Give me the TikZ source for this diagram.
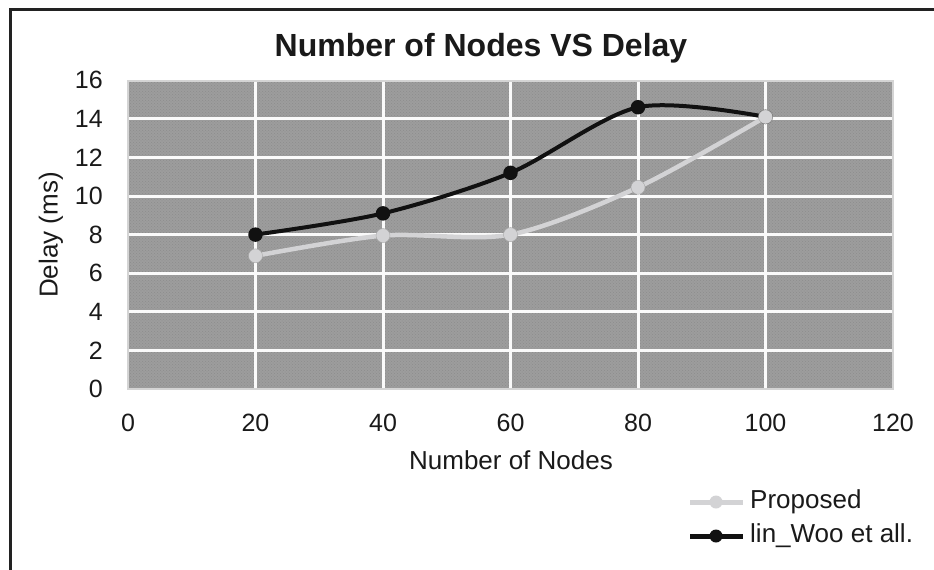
\documentclass[tikz,border=0pt]{standalone}
\usepackage{fontspec}
\setmainfont{Liberation Sans}
\usetikzlibrary{patterns}
\definecolor{framec}{HTML}{222222}
\definecolor{areac}{HTML}{9D9D9D}
\definecolor{gridc}{HTML}{FAFAFA}
\definecolor{edgec}{HTML}{D4D4D4}
\definecolor{propc}{HTML}{D3D3D5}
\definecolor{linc}{HTML}{111111}
\definecolor{textc}{HTML}{1A1A1A}

\begin{document}
\begin{tikzpicture}[x=1pt,y=-1pt,
  ticklab/.style={font=\fontsize{25}{25}\selectfont, text=textc, inner sep=0pt},
  axtitle/.style={font=\fontsize{26}{26}\selectfont, text=textc, inner sep=0pt},
  legtext/.style={font=\fontsize{26}{26}\selectfont, text=textc, inner sep=0pt, anchor=west},
  gridline/.style={draw=gridc, line width=3pt},
  propline/.style={draw=propc, line width=4.5pt, line join=round, line cap=round},
  linline/.style={draw=linc, line width=4pt, line join=round, line cap=round},
  propmark/.style={circle, fill=propc, draw=black!35, line width=0.4pt, minimum size=14pt, inner sep=0pt},
  linmark/.style={circle, fill=linc, minimum size=14.5pt, inner sep=0pt}]

\useasboundingbox (0,0) rectangle (934,570);
\fill[white] (0,0) rectangle (934,570);

% chart frame (runs off the right and bottom edges)
\draw[framec, line width=3pt] (10.5,580) |- (945,9.5);

% title
\node[font=\fontsize{32}{32}\selectfont\bfseries, text=textc, inner sep=0pt] (title) at (481,48) {Number of Nodes VS Delay};

% plot area with a fine dotted texture
\fill[areac] (128,81) rectangle (893,389);
\fill[pattern=crosshatch dots, pattern color=black!60, fill opacity=0.3] (128,81) rectangle (893,389);

% grid
\foreach \gx in {20,40,60,80,100}
  \draw[gridline] ({128+6.375*\gx},81) -- ({128+6.375*\gx},389);
\foreach \gy in {2,4,...,14}
  \draw[gridline] (128,{389-19.3*\gy}) -- (893,{389-19.3*\gy});
\draw[edgec, line width=1.5pt] (128,81) rectangle (893,389);

% axis tick labels
\foreach \v in {0,2,...,16}
  \node[ticklab, anchor=east] (yt\v) at (103,{389-19.3*\v}) {\v};
\foreach \v in {0,20,...,120}
  \node[ticklab] (xt\v) at ({128+6.375*\v},423) {\v};

% axis titles
\node[axtitle, rotate=90] (ytitle) at (51,235) {Delay (ms)};
\node[axtitle] (xtitle) at (511,460) {Number of Nodes};

% data points
\begin{scope}[shift={(128,389)}, x=6.375pt, y=19.3pt]
  \coordinate (p20) at (20,6.9);
  \coordinate (p40) at (40,7.95);
  \coordinate (p60) at (60,8.0);
  \coordinate (p80) at (80,10.45);
  \coordinate (p100) at (100,14.1);
  \coordinate (w20) at (20,8.0);
  \coordinate (w40) at (40,9.1);
  \coordinate (w60) at (60,11.2);
  \coordinate (w80) at (80,14.6);
  \coordinate (w100) at (100,14.1);
\end{scope}

% series: lin_Woo et all.
\draw[linline] plot[smooth] coordinates {(w20) (w40) (w60) (w80) (w100)};
\foreach \k in {20,40,60,80,100}
  \node[linmark] (wm\k) at (w\k) {};

% series: Proposed
\draw[propline] plot[smooth] coordinates {(p20) (p40) (p60) (p80) (p100)};
\foreach \k in {20,40,60,80,100}
  \node[propmark] (pm\k) at (p\k) {};

% legend
\coordinate (lpa) at (690,502);
\coordinate (lpb) at (743,502);
\coordinate (lwa) at (690,536);
\coordinate (lwb) at (743,536);
\draw[propc, line width=5pt] (lpa) -- (lpb);
\node[propmark, draw=none, minimum size=13pt] (lpm) at (716,502) {};
\node[legtext] (lpt) at (750,502) {Proposed};
\draw[linc, line width=5pt] (lwa) -- (lwb);
\node[linmark, minimum size=13pt] (lwm) at (716,536) {};
\node[legtext] (lwt) at (750,536) {lin\_Woo et all.};
\end{tikzpicture}
\end{document}
